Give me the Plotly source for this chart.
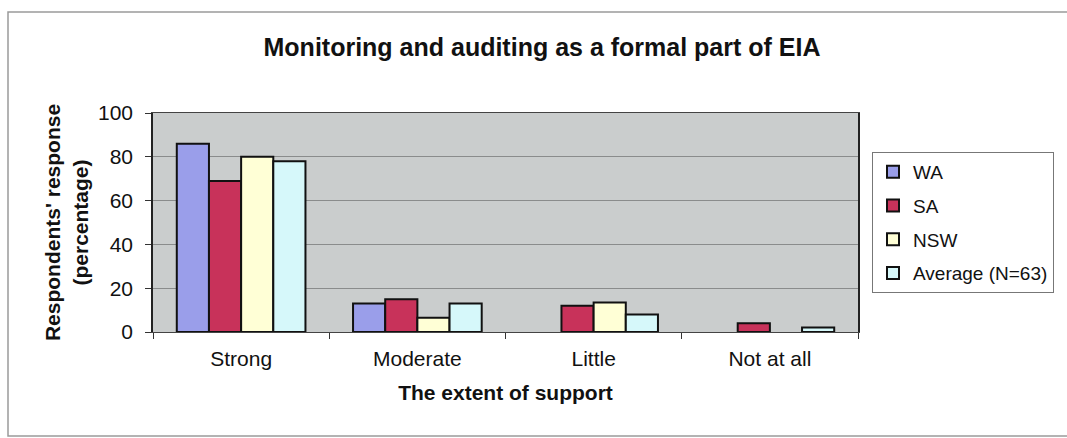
import plotly.graph_objects as go

categories = ["Strong", "Moderate", "Little", "Not at all"]
wa = [86, 13, 0, 0]
sa = [69, 15, 12, 4]
nsw = [80, 6.5, 13.5, 0]
average = [78, 13, 8, 2]
series_names = ["WA", "SA", "NSW", "Average (N=63)"]
series_colors = ["#9A9EEA", "#C8325A", "#FFFFD6", "#D6F8FA"]

FONT = "Liberation Sans, Arial, sans-serif"

fig = go.Figure()
for name, vals, col in zip(series_names, [wa, sa, nsw, average], series_colors):
    fig.add_trace(go.Bar(
        x=categories, y=vals, name=name, legendgroup=name,
        marker=dict(color=col, line=dict(color="#111111",
                                         width=[2 if v > 0 else 0 for v in vals])),
    ))

W, H = 1067, 438
L, R, T, B = 153, 209, 113, 106
pw, ph = W - L - R, H - T - B

def px(x):
    return (x - L) / pw

def py(y):
    return (H - B - y) / ph

fig.update_layout(
    width=W, height=H,
    margin=dict(l=L, r=R, t=T, b=B),
    paper_bgcolor="white",
    plot_bgcolor="#CACDCD",
    barmode="group",
    bargap=0.27,
    bargroupgap=0,
    font=dict(family=FONT, size=21, color="#111111"),
    title=dict(text="<b>Monitoring and auditing as a formal part of EIA</b>",
               x=px(542), xref="paper", xanchor="center",
               y=1 - 47 / H, yanchor="middle",
               font=dict(size=25, family=FONT, color="#111111")),
    showlegend=True,
    legend=dict(x=px(872), xanchor="left", y=py(152), yanchor="top",
                bordercolor="#777777", borderwidth=1,
                bgcolor="white", font=dict(size=19, family=FONT),
                traceorder="grouped", itemwidth=30, tracegroupgap=6),
    xaxis=dict(
        title=dict(text="<b>The extent of support</b>", standoff=16,
                   font=dict(size=21, family=FONT)),
        tickson="boundaries", ticks="outside", ticklen=6, tickcolor="#333333",
        showline=True, linecolor="#444444", linewidth=1, mirror=True,
        showgrid=False, tickfont=dict(size=21), ticklabelstandoff=8,
    ),
    yaxis=dict(
        title=dict(text="<b>Respondents' response<br>(percentage)</b>", standoff=4,
                   font=dict(size=21, family=FONT)),
        range=[0, 100], dtick=20, ticks="outside", ticklen=6, tickcolor="#333333",
        showline=True, linecolor="#222222", linewidth=1.5, mirror=True,
        gridcolor="#8A8C8C", gridwidth=1.2, zeroline=False,
        tickfont=dict(size=21), ticklabelstandoff=8,
    ),
    shapes=[
        dict(type="rect", xref="paper", yref="paper",
             x0=px(8), x1=px(1080), y0=py(436), y1=py(12),
             line=dict(color="#9A9A9A", width=1.5), fillcolor="rgba(0,0,0,0)",
             layer="below"),
    ],
)

fig.write_html("out.html")
